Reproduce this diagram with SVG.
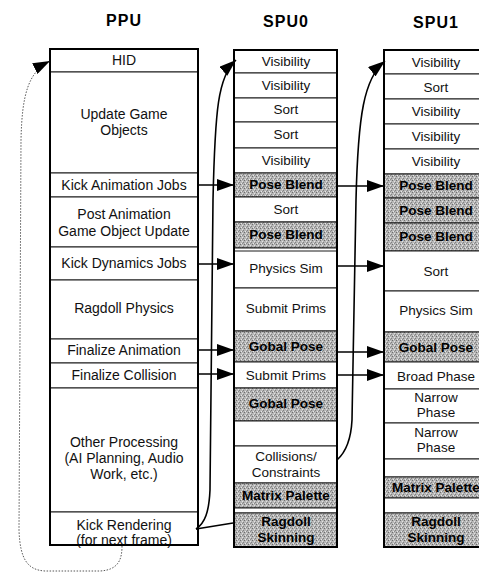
<svg xmlns="http://www.w3.org/2000/svg" width="479" height="573" viewBox="0 0 479 573">
  <defs>
    <style>
      .cell { fill: #fff; stroke: #1a1a1a; stroke-width: 1; }
      .gray { fill: url(#stipple); stroke: #1a1a1a; stroke-width: 1; }
      .frame { fill: none; stroke: #000; stroke-width: 2; }
      .t { font-family: "Liberation Sans", Arial, sans-serif; font-size: 13.5px; fill: #111; text-anchor: middle; }
      .p { font-size: 14px; }
      .tb { font-weight: bold; fill: #000; }
      .title { font-size: 16px; font-weight: bold; letter-spacing: 1px; fill: #000; }
      .wire { fill: none; stroke: #000; stroke-width: 1.6; }
      .dot { fill: none; stroke: #444; stroke-width: 0.9; stroke-dasharray: 1.5 1.5; }
    </style>
    <!-- halftone-like grey used for the pose/skinning jobs -->
    <pattern id="stipple" width="4" height="4" patternUnits="userSpaceOnUse">
      <rect width="4" height="4" fill="#b6b6b6"/>
      <rect x="0" y="0" width="1" height="1" fill="#6e6e6e"/>
      <rect x="2" y="1" width="1" height="1" fill="#e2e2e2"/>
      <rect x="3" y="2" width="1" height="1" fill="#808080"/>
      <rect x="1" y="3" width="1" height="1" fill="#e8e8e8"/>
      <rect x="2" y="3" width="1" height="1" fill="#8c8c8c"/>
    </pattern>
    <marker id="head" markerUnits="userSpaceOnUse" markerWidth="18" markerHeight="12" refX="17" refY="6" orient="auto">
      <path d="M0,0 L17,6 L0,12 z" fill="#000"/>
    </marker>
  </defs>

  <rect width="479" height="573" fill="#fff"/>

  <!-- column titles -->
  <text class="t title" x="124" y="26">PPU</text>
  <text class="t title" x="286" y="27">SPU0</text>
  <text class="t title" x="436" y="28">SPU1</text>

  <!-- PPU column -->
  <g id="ppu">
    <g id="ppu-hid"><rect class="cell" x="50" y="49" width="148" height="23"/><text class="t p" x="124" y="65">HID</text></g>
    <g id="ppu-update"><rect class="cell" x="50" y="72" width="148" height="101"/><text class="t p" x="124" y="119">Update Game</text><text class="t p" x="124" y="135">Objects</text></g>
    <g id="ppu-kick-anim"><rect class="cell" x="50" y="173" width="148" height="24"/><text class="t p" x="124" y="190">Kick Animation Jobs</text></g>
    <g id="ppu-post-anim"><rect class="cell" x="50" y="197" width="148" height="50"/><text class="t p" x="124" y="219">Post Animation</text><text class="t p" x="124" y="236">Game Object Update</text></g>
    <g id="ppu-kick-dyn"><rect class="cell" x="50" y="247" width="148" height="33"/><text class="t p" x="124" y="268">Kick Dynamics Jobs</text></g>
    <g id="ppu-ragdoll"><rect class="cell" x="50" y="280" width="148" height="59"/><text class="t p" x="124" y="313">Ragdoll Physics</text></g>
    <g id="ppu-fin-anim"><rect class="cell" x="50" y="339" width="148" height="24"/><text class="t p" x="124" y="355">Finalize Animation</text></g>
    <g id="ppu-fin-coll"><rect class="cell" x="50" y="363" width="148" height="25"/><text class="t p" x="124" y="380">Finalize Collision</text></g>
    <g id="ppu-other"><rect class="cell" x="50" y="388" width="148" height="124"/><text class="t p" x="124" y="447">Other Processing</text><text class="t p" x="124" y="463">(AI Planning, Audio</text><text class="t p" x="124" y="479">Work, etc.)</text></g>
    <g id="ppu-kick-render"><rect class="cell" x="50" y="512" width="148" height="33"/><text class="t p" x="124" y="530">Kick Rendering</text><text class="t p" x="124" y="545">(for next frame)</text></g>
    <rect class="frame" x="50" y="49" width="148" height="496"/>
  </g>

  <!-- SPU0 column -->
  <g id="spu0">
    <g id="spu0-vis1"><rect class="cell" x="234" y="50" width="103" height="23"/><text class="t" x="286" y="66">Visibility</text></g>
    <g id="spu0-vis2"><rect class="cell" x="234" y="73" width="103" height="25"/><text class="t" x="286" y="90">Visibility</text></g>
    <g id="spu0-sort1"><rect class="cell" x="234" y="98" width="103" height="24"/><text class="t" x="286" y="114">Sort</text></g>
    <g id="spu0-sort2"><rect class="cell" x="234" y="122" width="103" height="26"/><text class="t" x="286" y="139">Sort</text></g>
    <g id="spu0-vis3"><rect class="cell" x="234" y="148" width="103" height="25"/><text class="t" x="286" y="165">Visibility</text></g>
    <g id="spu0-pose1"><rect class="gray" x="234" y="173" width="103" height="24"/><text class="t tb" x="286" y="189">Pose Blend</text></g>
    <g id="spu0-sort3"><rect class="cell" x="234" y="197" width="103" height="25"/><text class="t" x="286" y="214">Sort</text></g>
    <g id="spu0-pose2"><rect class="gray" x="234" y="222" width="103" height="26"/><text class="t tb" x="286" y="239">Pose Blend</text></g>
    <g id="spu0-phys"><rect class="cell" x="234" y="248" width="103" height="40"/><line x1="234" y1="251" x2="337" y2="251" stroke="#1a1a1a" stroke-width="1"/><text class="t" x="286" y="273">Physics Sim</text></g>
    <g id="spu0-submit1"><rect class="cell" x="234" y="288" width="103" height="43"/><text class="t" x="286" y="313">Submit Prims</text></g>
    <g id="spu0-gpose1"><rect class="gray" x="234" y="331" width="103" height="31"/><text class="t tb" x="286" y="351">Gobal Pose</text></g>
    <g id="spu0-submit2"><rect class="cell" x="234" y="362" width="103" height="26"/><text class="t" x="286" y="380">Submit Prims</text></g>
    <g id="spu0-gpose2"><rect class="gray" x="234" y="388" width="103" height="33"/><text class="t tb" x="286" y="408">Gobal Pose</text></g>
    <g id="spu0-idle1"><rect class="cell" x="234" y="421" width="103" height="25"/></g>
    <g id="spu0-coll"><rect class="cell" x="234" y="446" width="103" height="37"/><text class="t" x="286" y="461">Collisions/</text><text class="t" x="286" y="477">Constraints</text></g>
    <g id="spu0-matrix"><rect class="gray" x="234" y="483" width="103" height="25"/><text class="t tb" x="286" y="500">Matrix Palette</text></g>
    <g id="spu0-idle2"><rect class="cell" x="234" y="508" width="103" height="5"/></g>
    <g id="spu0-skin"><rect class="gray" x="234" y="513" width="103" height="34"/><text class="t tb" x="286" y="526">Ragdoll</text><text class="t tb" x="286" y="542">Skinning</text></g>
    <rect class="frame" x="234" y="50" width="103" height="497"/>
  </g>

  <!-- SPU1 column (runs past the right edge) -->
  <g id="spu1">
    <g id="spu1-vis1"><rect class="cell" x="384" y="50" width="104" height="24"/><text class="t" x="436" y="67">Visibility</text></g>
    <g id="spu1-sort1"><rect class="cell" x="384" y="74" width="104" height="25"/><text class="t" x="436" y="92">Sort</text></g>
    <g id="spu1-vis2"><rect class="cell" x="384" y="99" width="104" height="25"/><text class="t" x="436" y="116">Visibility</text></g>
    <g id="spu1-vis3"><rect class="cell" x="384" y="124" width="104" height="25"/><text class="t" x="436" y="141">Visibility</text></g>
    <g id="spu1-vis4"><rect class="cell" x="384" y="149" width="104" height="25"/><text class="t" x="436" y="166">Visibility</text></g>
    <g id="spu1-pose1"><rect class="gray" x="384" y="174" width="104" height="24"/><text class="t tb" x="436" y="190">Pose Blend</text></g>
    <g id="spu1-pose2"><rect class="gray" x="384" y="198" width="104" height="25"/><text class="t tb" x="436" y="215">Pose Blend</text></g>
    <g id="spu1-pose3"><rect class="gray" x="384" y="223" width="104" height="28"/><text class="t tb" x="436" y="241">Pose Blend</text></g>
    <g id="spu1-sort2"><rect class="cell" x="384" y="251" width="104" height="40"/><text class="t" x="436" y="276">Sort</text></g>
    <g id="spu1-phys"><rect class="cell" x="384" y="291" width="104" height="41"/><text class="t" x="436" y="315">Physics Sim</text></g>
    <g id="spu1-gpose"><rect class="gray" x="384" y="332" width="104" height="30"/><text class="t tb" x="436" y="352">Gobal Pose</text></g>
    <g id="spu1-broad"><rect class="cell" x="384" y="362" width="104" height="27"/><text class="t" x="436" y="381">Broad Phase</text></g>
    <g id="spu1-narrow1"><rect class="cell" x="384" y="389" width="104" height="34"/><text class="t" x="436" y="402">Narrow</text><text class="t" x="436" y="417">Phase</text></g>
    <g id="spu1-narrow2"><rect class="cell" x="384" y="423" width="104" height="36"/><text class="t" x="436" y="437">Narrow</text><text class="t" x="436" y="452">Phase</text></g>
    <g id="spu1-idle1"><rect class="cell" x="384" y="459" width="104" height="18"/></g>
    <g id="spu1-matrix"><rect class="gray" x="384" y="477" width="104" height="21"/><text class="t tb" x="436" y="492">Matrix Palette</text></g>
    <g id="spu1-idle2"><rect class="cell" x="384" y="498" width="104" height="15"/></g>
    <g id="spu1-skin"><rect class="gray" x="384" y="513" width="104" height="34"/><text class="t tb" x="436" y="526">Ragdoll</text><text class="t tb" x="436" y="542">Skinning</text></g>
    <rect class="frame" x="384" y="50" width="104" height="497"/>
  </g>

  <!-- connectors -->
  <g id="connectors">
    <!-- PPU kicks into SPU0 -->
    <line class="wire" x1="198" y1="185" x2="234" y2="185" marker-end="url(#head)"/>
    <line class="wire" x1="198" y1="264" x2="234" y2="264" marker-end="url(#head)"/>
    <line class="wire" x1="198" y1="350" x2="234" y2="350" marker-end="url(#head)"/>
    <line class="wire" x1="198" y1="374" x2="234" y2="374" marker-end="url(#head)"/>
    <!-- SPU0 into SPU1 -->
    <line class="wire" x1="337" y1="186" x2="384" y2="186" marker-end="url(#head)"/>
    <line class="wire" x1="337" y1="266" x2="384" y2="266" marker-end="url(#head)"/>
    <line class="wire" x1="337" y1="352" x2="384" y2="352" marker-end="url(#head)"/>
    <line class="wire" x1="337" y1="375" x2="384" y2="375" marker-end="url(#head)"/>
    <!-- render kick loops to the top of SPU0 and feeds the skinning job -->
    <path class="wire" d="M196,529 C205,523 209,512 210,490 L213,200 C215,110 218,76 236,60" marker-end="url(#head)"/>
    <path class="wire" d="M196,529 L233,523"/>
    <!-- collisions loop to the top of SPU1 -->
    <path class="wire" d="M337,460 C346,452 351,440 352,420 L356,200 C358,115 364,78 385,61" marker-end="url(#head)"/>
    <!-- next frame back to HID -->
    <path class="dot" d="M122,546 C122,560 118,570 100,571 L45,571 C28,570 20,560 19,530 L21,140 C22,95 28,72 50,61" marker-end="url(#head)"/>
  </g>
</svg>
